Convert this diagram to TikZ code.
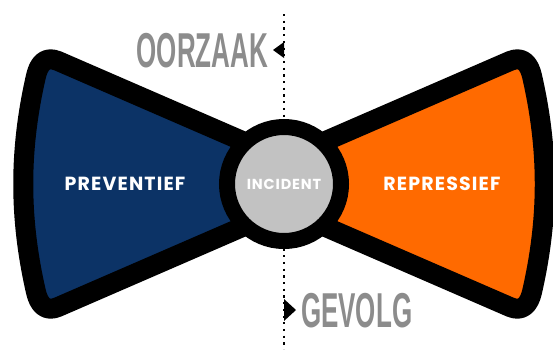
\documentclass[tikz,border=0pt]{standalone}
\usepackage{fontspec}
\setmainfont{Poppins}
\newfontfamily\labelfont{Liberation Sans}
\definecolor{navy}{HTML}{0C3366}
\definecolor{fireorange}{HTML}{FF6A00}
\definecolor{incgrey}{HTML}{C2C2C2}
\definecolor{labelgrey}{HTML}{8C8C8C}

\newcommand{\wingpath}{(270,153) -- (58,61) .. controls (45,55.4) and (38.7,64.3) .. (36,76)
  .. controls (19,150) and (19,218) .. (36,292)
  .. controls (38.7,303.7) and (45.2,312.6) .. (58,307) -- (270,215) -- cycle}

\tikzset{
  wing/.style={draw=black, line width=20, line join=round},
  wingtext/.style={text=white, font=\bfseries\fontsize{19}{19}\selectfont\addfontfeature{LetterSpace=6}},
  sidelabel/.style={text=labelgrey, font=\labelfont\bfseries\fontsize{49}{49}\selectfont, xscale=0.53, inner sep=0pt},
  marker/.style={fill=black}
}

\begin{document}
\begin{tikzpicture}[x=1pt, y=-1pt]
    \useasboundingbox (0,0) rectangle (553,349);

    % Axis
    \coordinate (top) at (284,14);
    \coordinate (bot) at (284,349);
    \draw[line width=2.2, dash pattern=on 2.2pt off 4.5pt] (top) -- (bot);

    % Wings
    \fill[marker] (273,50) -- (284,42) -- (284,58) -- cycle;
    \fill[marker] (296,310) -- (284,299) -- (284,321) -- cycle;
    \path[wing, fill=navy] \wingpath;
    \begin{scope}[xshift=568, xscale=-1]
      \path[wing, fill=fireorange] \wingpath;
    \end{scope}

    % Nodes
    \node[circle, draw=black, line width=16, fill=incgrey, minimum size=114, inner sep=0pt,
          text=white, font=\bfseries\fontsize{14.5}{14.5}\selectfont\addfontfeature{LetterSpace=6}] (inc) at (284,184) {INCIDENT};
    \node[wingtext] (prev) at (125,184) {PREVENTIEF};
    \node[wingtext] (rep) at (442,184) {REPRESSIEF};
    \node[sidelabel, anchor=east] (cause) at (268,51) {OORZAAK};
    \node[sidelabel, anchor=west] (effect) at (301,311) {GEVOLG};
\end{tikzpicture}
\end{document}
